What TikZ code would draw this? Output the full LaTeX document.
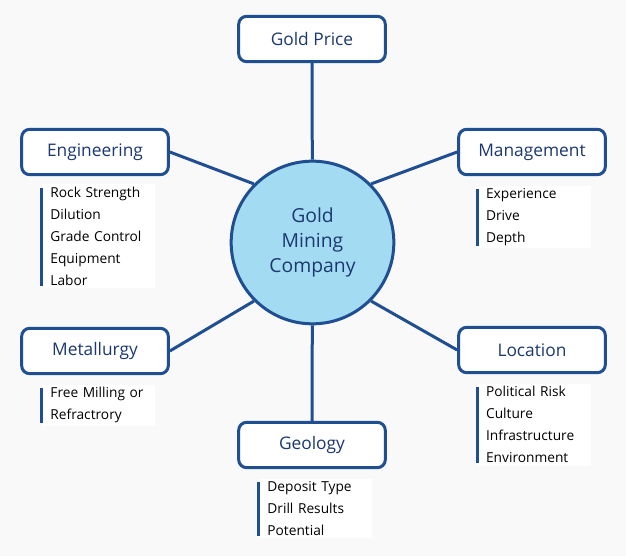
\documentclass[tikz,border=0pt]{standalone}
\usepackage{fontspec}
\setmainfont{Open Sans}
\usetikzlibrary{positioning}
\usetikzlibrary{calc}

\definecolor{lineblue}{RGB}{31,78,145}
\definecolor{textblue}{RGB}{28,56,112}
\definecolor{hubfill}{RGB}{163,220,242}
\definecolor{backgray}{RGB}{249,249,250}

\tikzset{
    topic/.style={draw=lineblue, line width=2.25pt, rounded corners=6pt, fill=white,
        minimum width=110pt, minimum height=34pt, text=textblue,
        font=\fontsize{13}{15}\selectfont},
    hub/.style={circle, draw=lineblue, line width=2.25pt, fill=hubfill,
        minimum size=122pt, text=textblue, align=center,
        font=\fontsize{14.5}{18.4}\selectfont},
    items/.style={fill=white, align=left, text width=72pt, inner xsep=6.5pt, inner ysep=2pt,
        font=\fontsize{10.3}{16.5}\selectfont},
    link/.style={draw=lineblue, line width=2.25pt},
    bar/.style={draw=lineblue, line width=2.25pt}
}

\begin{document}
\begin{tikzpicture}[x=0.75pt, y=-0.75pt]
    \fill[backgray] (0,0) rectangle (626,556);
    \useasboundingbox (0,0) rectangle (626,556);

    \node[hub] (company) at (312.5,242.5) {Gold\\Mining\\Company};

    \node[topic] (goldprice) at (312,39) {Gold Price};
    \node[topic] (engineering) at (95,152) {Engineering};
    \node[topic] (management) at (532,152) {Management};
    \node[topic] (metallurgy) at (95,351) {Metallurgy};
    \node[topic] (location) at (532,350) {Location};
    \node[topic] (geology) at (312,445) {Geology};

    % lists under the topics
    \node[items, below right=6pt and 16pt of engineering.south west] (engineeringlist)
        {Rock Strength\\Dilution\\Grade Control\\Equipment\\Labor};
    \node[items, below right=7pt and 15pt of management.south west] (managementlist)
        {Experience\\Drive\\Depth};
    \node[items, below right=7pt and 16pt of metallurgy.south west] (metallurgylist)
        {Free Milling or\\Refractrory};
    \node[items, below right=7pt and 15pt of location.south west] (locationlist)
        {Political Risk\\Culture\\Infrastructure\\Environment};
    \node[items, below right=7pt and 16pt of geology.south west] (geologylist)
        {Deposit Type\\Drill Results\\Potential};

    \foreach \l in {engineeringlist,managementlist,metallurgylist,locationlist,geologylist}
        \draw[bar] ($(\l.north west)+(0,4)$) -- ($(\l.south west)+(0,-3)$);

    % spokes
    \draw[link] (goldprice) -- (company);
    \draw[link] (engineering.east) -- (company.135);
    \draw[link] (management.west) -- (company.45);
    \draw[link] (metallurgy.east) -- (company.225);
    \draw[link] (location.west) -- (company.315);
    \draw[link] (geology) -- (company);
\end{tikzpicture}
\end{document}
